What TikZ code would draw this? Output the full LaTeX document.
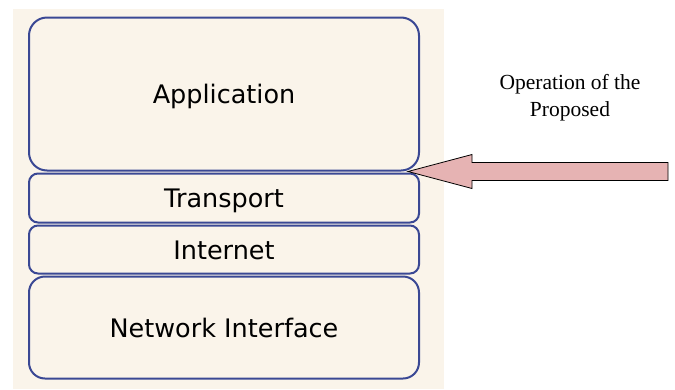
\documentclass[tikz,border=0pt]{standalone}
\usepackage{fontspec}
\setmainfont{Liberation Serif}
\newfontfamily\layerfont{DejaVu Sans}
\usepackage{xcolor}
\usepackage{tikz}
\usetikzlibrary{positioning}

\definecolor{panelbg}{HTML}{FAF4EA}
\definecolor{layerblue}{HTML}{3A4894}
\definecolor{arrowpink}{HTML}{E6B3B3}

\begin{document}
\begin{tikzpicture}[x=1pt, y=-1pt,
    layer/.style={draw=layerblue, line width=2pt, fill=panelbg,
        minimum width=390pt, inner sep=0pt, text height=19pt, text depth=0pt,
        font=\layerfont\fontsize{25.5}{30}\selectfont},
    fatarrow/.style={draw=black, line width=0.8pt, fill=arrowpink, line join=miter}]
    \useasboundingbox (0,0) rectangle (675,389);
    % 1. Nền của chồng giao thức
    \fill[panelbg] (13,9) rectangle (444,389);

    % 2. Các tầng
    \node[layer, rounded corners=18pt, minimum height=153pt] (app) at (224,94) {Application};
    \node[layer, rounded corners=9pt, minimum height=49pt, below=1pt of app] (trans) {Transport};
    \node[layer, rounded corners=9pt, minimum height=48pt, below=1pt of trans] (inet) {Internet};
    \node[layer, rounded corners=16pt, minimum height=102pt, below=1pt of inet] (netif) {Network Interface};

    % 3. Mũi tên và chú thích
    \coordinate (tip) at ([xshift=-12pt]app.south east);
    \draw[fatarrow] (tip) -- ++(64,-17) -- ++(0,8) -- ++(196,0) -- ++(0,18)
        -- ++(-196,0) -- ++(0,8) -- cycle;
    \node[align=center, font=\fontsize{21.5}{27}\selectfont] (note) at (570,98)
        {Operation of the\\Proposed};
\end{tikzpicture}
\end{document}
